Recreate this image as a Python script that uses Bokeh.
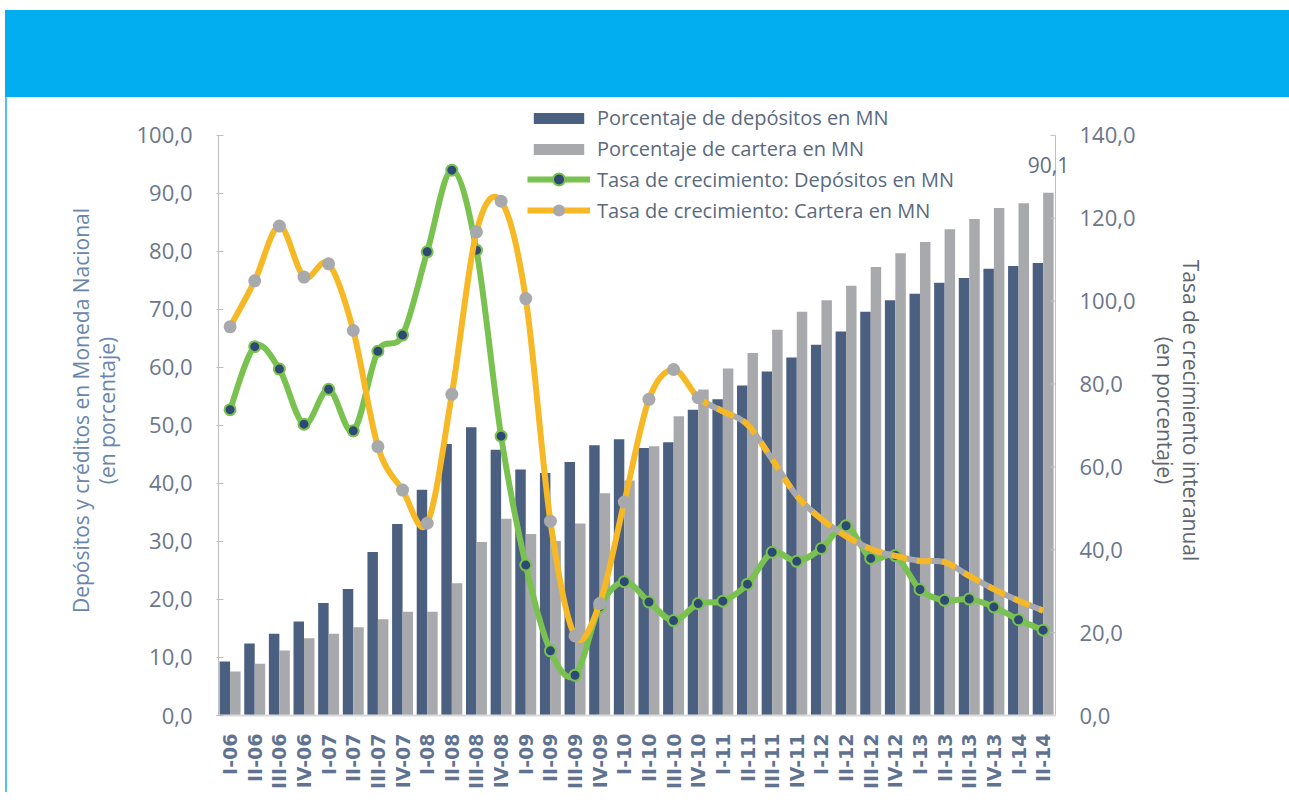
import numpy as np
from bokeh.plotting import figure
from bokeh.models import (Range1d, LinearAxis, FixedTicker, Legend, LegendItem,
                          Div, ColumnDataSource, Label)
from bokeh.layouts import column, row
from bokeh.embed import file_html
from bokeh.resources import INLINE

# ---------------- data ----------------
labels = ["I-06", "II-06", "III-06", "IV-06",
          "I-07", "II-07", "III-07", "IV-07",
          "I-08", "II-08", "III-08", "IV-08",
          "I-09", "II-09", "III-09", "IV-09",
          "I-10", "II-10", "III-10", "IV-10",
          "I-11", "II-11", "III-11", "IV-11",
          "I-12", "II-12", "III-12", "IV-12",
          "I-13", "II-13", "III-13", "IV-13",
          "I-14", "II-14"]

# Porcentaje de depósitos en MN (left axis)
dep_share = [9.3, 12.4, 14.1, 16.2,
             19.4, 21.8, 28.2, 33.0,
             38.9, 46.8, 49.7, 45.8,
             42.4, 41.8, 43.7, 46.6,
             47.6, 46.1, 47.1, 52.7,
             54.5, 56.9, 59.3, 61.7,
             63.9, 66.2, 69.6, 71.6,
             72.7, 74.6, 75.4, 77.0,
             77.5, 78.0]

# Porcentaje de cartera en MN (left axis)
cart_share = [7.6, 8.9, 11.2, 13.3,
              14.1, 15.2, 16.6, 17.9,
              17.9, 22.8, 29.9, 33.9,
              31.3, 30.1, 33.1, 38.3,
              40.5, 46.4, 51.6, 56.2,
              59.8, 62.5, 66.5, 69.6,
              71.6, 74.1, 77.3, 79.7,
              81.6, 83.8, 85.6, 87.5,
              88.3, 90.1]

# Tasa de crecimiento: Depósitos en MN (right axis)
dep_growth = [73.8, 89.0, 83.6, 70.3,
              78.7, 68.7, 87.9, 91.8,
              111.9, 131.6, 112.3, 67.4,
              36.3, 15.6, 9.7, 26.2,
              32.3, 27.4, 22.9, 27.0,
              27.6, 31.7, 39.4, 37.2,
              40.3, 45.8, 37.9, 38.6,
              30.4, 27.8, 28.1, 26.2,
              23.1, 20.6]

# Tasa de crecimiento: Cartera en MN (right axis)
cart_growth = [93.8, 104.9, 118.1, 105.8,
               109.0, 92.9, 64.9, 54.4,
               46.4, 77.5, 116.7, 124.1,
               100.6, 46.9, 19.2, 27.0,
               51.5, 76.3, 83.5, 76.7,
               73.4, 70.2, 61.8, 53.0,
               47.4, 43.3, 40.2, 38.5,
               37.3, 37.0, 33.7, 30.5,
               27.7, 25.3]

left_ticks = [0, 10, 20, 30, 40, 50, 60, 70, 80, 90, 100]
right_ticks = [0, 20, 40, 60, 80, 100, 120, 140]
dashed_from = 19   # cartera growth line is dashed from IV-10 on

# ---------------- styles ----------------
NAVY = "#4b5f80"
GRAY = "#a7a9ac"
GREEN = "#79c24f"
ORANGE = "#f6b825"
MARK_NAVY = "#2e4a74"
FONT = "Open Sans"
TICK_COL = "#6b778a"
AXIS_COL = "#bfbfbf"

def fmt(v):
    return f"{v:.1f}".replace(".", ",")

x = np.arange(len(labels), dtype=float)
bw = 0.425
n = len(labels)
x_lo, x_hi = -0.47, n - 0.5          # category extent

# frame is a bit wider/taller than the axes so the "90,1" label and the
# legend are not clipped
p = figure(width=1282, height=695,
           x_range=Range1d(x_lo, x_hi + 0.69), y_range=Range1d(0, 105.15),
           output_backend="svg", toolbar_location=None,
           min_border_left=211, min_border_right=217,
           min_border_top=8, min_border_bottom=75)
p.extra_y_ranges = {"right": Range1d(0, 147.2)}
p.outline_line_color = None
p.xgrid.visible = False
p.ygrid.visible = False
p.background_fill_color = "white"
p.border_fill_color = "white"

# bars
src = ColumnDataSource(dict(xd=x - bw / 2, xc=x + bw / 2,
                            dep=dep_share, cart=cart_share))
b1 = p.vbar(x="xd", top="dep", width=bw, source=src,
            fill_color=NAVY, line_color=None)
b2 = p.vbar(x="xc", top="cart", width=bw, source=src,
            fill_color=GRAY, line_color=None)

# right axis rule and inward ticks at the end of the categories
p.segment(x0=[x_hi], y0=[right_ticks[0]], x1=[x_hi], y1=[right_ticks[-1]],
          y_range_name="right", line_color=AXIS_COL, line_width=1)
p.ray(x=[x_hi] * len(right_ticks), y=right_ticks, length=5,
      length_units="screen", angle=np.pi, y_range_name="right",
      line_color=AXIS_COL, line_width=1)

# smooth curves (Catmull-Rom -> cubic Bezier through the data points)
def bez(xs, ys, idx):
    d = dict(x0=[], y0=[], x1=[], y1=[], cx0=[], cy0=[], cx1=[], cy1=[])
    for i in idx:
        im = max(i - 1, 0)
        ip = min(i + 2, n - 1)
        d["x0"].append(xs[i]); d["y0"].append(ys[i])
        d["x1"].append(xs[i + 1]); d["y1"].append(ys[i + 1])
        d["cx0"].append(xs[i] + (xs[i + 1] - xs[im]) / 6)
        d["cy0"].append(ys[i] + (ys[i + 1] - ys[im]) / 6)
        d["cx1"].append(xs[i + 1] - (xs[ip] - xs[i]) / 6)
        d["cy1"].append(ys[i + 1] - (ys[ip] - ys[i]) / 6)
    return ColumnDataSource(d)

LW = 6
bkw = dict(x0="x0", y0="y0", x1="x1", y1="y1", cx0="cx0", cy0="cy0",
           cx1="cx1", cy1="cy1", y_range_name="right", line_width=LW)

# green line
p.bezier(source=bez(x, dep_growth, range(n - 1)), line_color=GREEN, **bkw)
g_sc = p.scatter(x, dep_growth, y_range_name="right", size=11,
                 fill_color=MARK_NAVY, line_color=GREEN, line_width=2)

# orange line: solid part, then dashed part
p.bezier(source=bez(x, cart_growth, range(dashed_from)),
         line_color=ORANGE, **bkw)
p.bezier(source=bez(x, cart_growth, range(dashed_from, n - 1)),
         line_color=GRAY, **bkw)
p.bezier(source=bez(x, cart_growth, range(dashed_from, n - 1)),
         line_color=ORANGE, line_dash="12 10", **bkw)
o_sc = p.scatter(x[:dashed_from + 1], cart_growth[:dashed_from + 1],
                 y_range_name="right", size=13,
                 fill_color=GRAY, line_color=None)

# legend helper glyphs (a single NaN row: nothing is drawn in the plot)
nan = [float("nan")]
g_leg = p.line(x=nan, y=nan, line_color=GREEN, line_width=LW)
g_leg_sc = p.scatter(x=nan, y=nan, fill_color=MARK_NAVY,
                     line_color=GREEN, line_width=2)
o_leg = p.line(x=nan, y=nan, line_color=ORANGE, line_width=LW)
o_leg_sc = p.scatter(x=nan, y=nan, fill_color=GRAY, line_color=None)

# value label on last bar
p.add_layout(Label(x=x[-1] + bw / 2, y=cart_share[-1],
                   text=fmt(cart_share[-1]), text_align="center",
                   text_baseline="bottom", y_offset=20,
                   text_font=FONT, text_font_size="21px",
                   text_color="#5f6f86"))

# ---------------- axes ----------------
xa = p.xaxis[0]
xa.ticker = FixedTicker(ticks=list(range(n)))
xa.bounds = (x_lo, x_hi)
xa.major_label_overrides = {i: lab for i, lab in enumerate(labels)}
xa.major_label_orientation = np.pi / 2
xa.major_label_text_font = "DejaVu Sans"
xa.major_label_text_font_style = "bold"
xa.major_label_text_font_size = "19px"
xa.major_label_text_color = "#5f7391"
xa.major_label_standoff = 12
xa.axis_line_color = "#d9d9d9"
xa.axis_line_width = 2
xa.major_tick_line_color = None
xa.minor_tick_line_color = None

ya = p.yaxis[0]
ya.ticker = FixedTicker(ticks=left_ticks)
ya.bounds = (left_ticks[0], left_ticks[-1])
ya.major_label_overrides = {t: fmt(t) for t in left_ticks}
ya.major_label_text_font = FONT
ya.major_label_text_font_size = "22px"
ya.major_label_text_color = TICK_COL
ya.major_label_standoff = 24
ya.major_tick_in = 5
ya.major_tick_out = 2
ya.minor_tick_line_color = None
ya.axis_line_color = AXIS_COL
ya.major_tick_line_color = AXIS_COL
ya.axis_label = "Depósitos y créditos en Moneda Nacional\n(en porcentaje)"
ya.axis_label_text_font = FONT
ya.axis_label_text_font_size = "21px"
ya.axis_label_text_line_height = 0.95
ya.axis_label_text_font_style = "normal"
ya.axis_label_text_color = "#6a86ab"
ya.axis_label_standoff = 12

ra = LinearAxis(y_range_name="right")
ra.ticker = FixedTicker(ticks=right_ticks)
ra.bounds = (right_ticks[0], right_ticks[-1])
ra.major_label_overrides = {t: fmt(t) for t in right_ticks}
ra.major_label_text_font = FONT
ra.major_label_text_font_size = "22px"
ra.major_label_text_color = TICK_COL
ra.major_label_standoff = 7
ra.major_tick_in = 0
ra.major_tick_out = 0
ra.axis_line_color = None
ra.major_tick_line_color = None
ra.minor_tick_line_color = None
ra.axis_label = "Tasa de crecimiento interanual\n(en porcentaje)"
ra.axis_label_text_font = FONT
ra.axis_label_text_font_size = "21px"
ra.axis_label_text_line_height = 0.95
ra.axis_label_text_font_style = "normal"
ra.axis_label_text_color = "#5f6670"
ra.axis_label_standoff = 12
p.add_layout(ra, "right")

# ---------------- legends ----------------
leg_common = dict(orientation="vertical", glyph_width=63, label_standoff=7,
                  padding=0, margin=0, border_line_color=None,
                  background_fill_alpha=0, label_text_font=FONT,
                  label_text_font_size="20px", label_text_color="#5a6a80")
legend_bars = Legend(items=[
    LegendItem(label="Porcentaje de depósitos en MN", renderers=[b1]),
    LegendItem(label="Porcentaje de cartera en MN", renderers=[b2]),
], location=(309, 553), glyph_height=14, label_height=27, spacing=4,
    **leg_common)
legend_lines = Legend(items=[
    LegendItem(label="Tasa de crecimiento: Depósitos en MN",
               renderers=[g_leg, g_leg_sc]),
    LegendItem(label="Tasa de crecimiento: Cartera en MN",
               renderers=[o_leg, o_leg_sc]),
], location=(309, 490), glyph_height=30, label_height=30, spacing=1,
    **leg_common)
p.add_layout(legend_bars, "center")
p.add_layout(legend_lines, "center")

banner = Div(text="", width=1284, height=87, margin=(10, 0, 0, 5),
             styles={"background-color": "#02aeef"})
edge = Div(text="", width=2, height=695, margin=(0, 0, 0, 5),
           styles={"background-color": "#4fc3f7"})

layout = column(banner, row(edge, p, spacing=0), spacing=0)

open("out.html", "w").write(file_html(layout, INLINE))
